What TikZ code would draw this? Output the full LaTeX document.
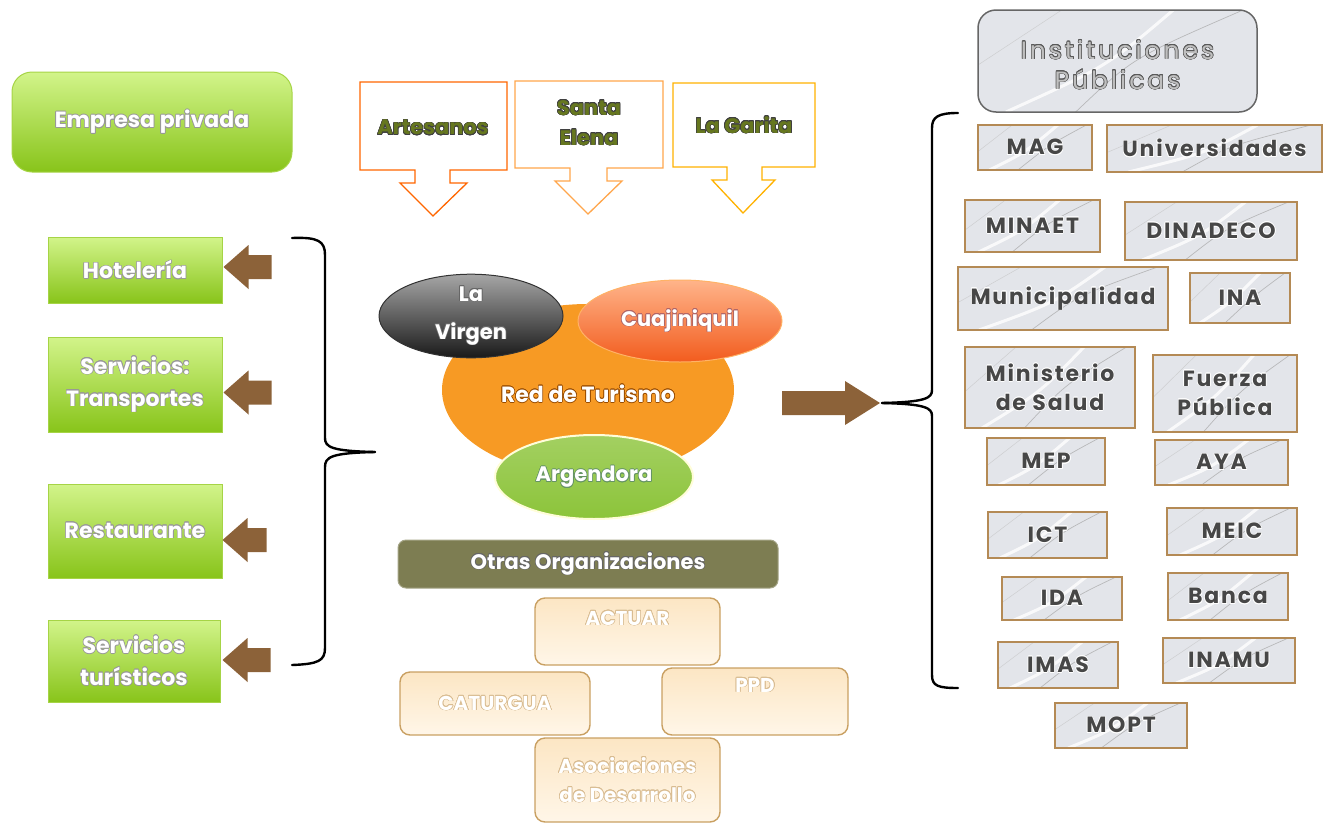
\documentclass[tikz,border=0pt]{standalone}
\usepackage{fontspec}
\setmainfont{Poppins}
\usepackage{contour}
\contourlength{0.6pt}
\usetikzlibrary{shapes.geometric,calc}
\definecolor{gtop}{HTML}{D2F48A}
\definecolor{gbot}{HTML}{88C41A}
\definecolor{gedge}{HTML}{A6D446}
\definecolor{abrown}{HTML}{8C6239}
\definecolor{olivetxt}{HTML}{66771F}
\definecolor{redorange}{HTML}{F79A24}
\definecolor{cuajtop}{HTML}{FFB48A}
\definecolor{cuajbot}{HTML}{F25C1E}
\definecolor{argreen}{HTML}{8CC43A}
\definecolor{olivebox}{HTML}{7D7D52}
\definecolor{peachtop}{HTML}{FCE6C4}
\definecolor{peachbot}{HTML}{FFF6E8}
\definecolor{peachedge}{HTML}{C9A062}
\definecolor{marblebg}{HTML}{E3E5EA}
\definecolor{marbleedge}{HTML}{B48A55}
\definecolor{insttxt}{HTML}{474747}
\newcommand\cwg[1]{\contour{black!40}{#1}}
\newcommand\cwo[1]{\contour{black!75}{#1}}
\newcommand\cwp[1]{\contour{peachedge!70}{#1}}
\newcommand\cwi[1]{\contour{white}{#1}}
\newcommand\cwt[1]{\contour{black!65}{#1}}
\newcommand\grnfont{\bfseries\fontsize{22}{32}\selectfont}
\newcommand\instfont{\bfseries\fontsize{22}{29}\selectfont\addfontfeature{LetterSpace=8}}
\begin{document}
\begin{tikzpicture}[x=1pt,y=-1pt,
  gbox/.style={draw=gedge, line width=1pt, top color=gtop, bottom color=gbot, text=white, font=\grnfont, align=center, inner sep=0pt},
  callout/.style={fill=white, line width=1.3pt, line join=miter},
  calltext/.style={text=olivetxt, font=\bfseries\fontsize{21}{30}\selectfont, align=center, inner sep=0pt},
  fatarrow/.style={fill=abrown},
  bracestyle/.style={draw=black, line width=2.4pt, line cap=round},
  peach/.style={draw=peachedge, line width=1.4pt, rounded corners=10pt, top color=peachtop, bottom color=peachbot, text=white, font=\bfseries\fontsize{20}{29}\selectfont, align=center, inner xsep=0pt},
  marble/.style={draw=marbleedge, line width=1.5pt, fill=marblebg, text=insttxt, font=\instfont, align=center, inner sep=0pt,
    path picture={
      \draw[white, line width=3pt, opacity=0.8] ($(path picture bounding box.south west)!0.1!(path picture bounding box.south east)$) .. controls ($(path picture bounding box.center)+(-10,5)$) .. ($(path picture bounding box.north west)!0.7!(path picture bounding box.north east)$);
      \draw[gray!70, line width=0.7pt, opacity=0.7] ($(path picture bounding box.south west)!0.35!(path picture bounding box.south east)$) .. controls ($(path picture bounding box.center)+(15,-3)$) .. ($(path picture bounding box.north west)!0.95!(path picture bounding box.north east)$);
      \draw[gray!50, line width=0.5pt, opacity=0.6] ($(path picture bounding box.west)+(0,4)$) -- ($(path picture bounding box.north west)!0.3!(path picture bounding box.north east)$);
    }},
  ell/.style={ellipse, inner sep=0pt, text=white, font=\bfseries\fontsize{21}{38}\selectfont, align=center}
]
\useasboundingbox (0,0) rectangle (1331,825);

% ---------- left: private enterprise ----------
\node[gbox, rounded corners=20pt, minimum width=280pt, minimum height=100pt] (emp) at (152,122) {\cwg{Empresa privada}};
\node[gbox, minimum width=174pt, minimum height=66pt] (hotel) at (135,270) {\cwg{Hotelería}};
\node[gbox, minimum width=174pt, minimum height=95pt] (trans) at (135,384.5) {\cwg{Servicios:}\\\cwg{Transportes}};
\node[gbox, minimum width=174pt, minimum height=94pt] (rest) at (135,531) {\cwg{Restaurante}};
\node[gbox, minimum width=172pt, minimum height=82pt] (turis) at (134,661) {\cwg{Servicios}\\\cwg{turísticos}};

\fill[fatarrow] ([xshift=1pt,yshift=3pt]hotel.east) -- ++(25,-22) -- ++(0,10) -- ++(23,0) -- ++(0,24) -- ++(-23,0) -- ++(0,10) -- cycle;
\fill[fatarrow] ([xshift=1pt,yshift=-8pt]trans.east) -- ++(25,-22) -- ++(0,10) -- ++(23,0) -- ++(0,24) -- ++(-23,0) -- ++(0,10) -- cycle;
\fill[fatarrow] ([xshift=0pt,yshift=-9pt]rest.east) -- ++(25,-22) -- ++(0,10) -- ++(19,0) -- ++(0,24) -- ++(-19,0) -- ++(0,10) -- cycle;
\fill[fatarrow] ([xshift=2pt,yshift=1pt]turis.east) -- ++(25,-22) -- ++(0,10) -- ++(23,0) -- ++(0,24) -- ++(-23,0) -- ++(0,10) -- cycle;

% left brace
\coordinate (lbt) at (375,452);
\draw[bracestyle] (292,238) .. controls (318,237) and (325,241) .. (325,255) -- (325,438) .. controls (325,447) and (331,451) .. (lbt);
\draw[bracestyle] (lbt) .. controls (331,453) and (325,457) .. (325,467) -- (325,648) .. controls (325,661) and (318,664) .. (292,665);

% ---------- top callouts ----------
\draw[callout, draw=orange!80!red] (360,82) -- (507,82) -- (507,170) -- (450,170) -- (450,183) -- (467,183) -- (433,216) -- (400,183) -- (415,183) -- (415,170) -- (360,170) -- cycle;
\node[calltext] (art) at (433,128) {\cwo{Artesanos}};
\draw[callout, draw=orange!70] (515,81) -- (663,81) -- (663,168) -- (607,168) -- (607,181) -- (622,181) -- (588,214) -- (555,181) -- (570,181) -- (570,168) -- (515,168) -- cycle;
\node[calltext] (sta) at (589,123) {\cwo{Santa}\\\cwo{Elena}};
\draw[callout, draw=orange!60!yellow] (673,83) -- (815,83) -- (815,167) -- (762,167) -- (762,180) -- (775,180) -- (743,213) -- (712,180) -- (727,180) -- (727,167) -- (673,167) -- cycle;
\node[calltext] (gar) at (744,125) {\cwo{La Garita}};

% ---------- center ellipses ----------
\node[ell, fill=redorange, minimum width=292pt, minimum height=172pt] (red) at (588,390) {};
\node[ell, draw=black!80, line width=1pt, top color=black!35, bottom color=black!90, minimum width=184pt, minimum height=82pt] (virgen) at (471,316) {\contour{black!60}{La}\\\contour{black!60}{Virgen}};
\node[ell, draw=orange!60, line width=1pt, top color=cuajtop, bottom color=cuajbot, minimum width=204pt, minimum height=82pt] (cuaj) at (680,321) {\contour{red!50!black!60}{Cuajiniquil}};
\node[text=white, font=\bfseries\fontsize{22}{38}\selectfont, inner sep=0pt] (redtxt) at (588,394) {\contour{orange!60!black}{Red de Turismo}};
\node[ell, draw=white!85!yellow, line width=2pt, top color=argreen!80!white, bottom color=argreen, minimum width=198pt, minimum height=84pt] (argen) at (594,477) {\contour{green!30!black!60}{Argendora}};

% right arrow
\coordinate (rbt) at (882,403);
\fill[fatarrow] ([xshift=-2pt]rbt) -- ++(-35,-22) -- ++(0,10) -- ++(-63,0) -- ++(0,24) -- ++(63,0) -- ++(0,10) -- cycle;

% ---------- other organisations ----------
\node[rounded corners=8pt, fill=olivebox, draw=olivebox!70!white, line width=1pt, minimum width=380pt, minimum height=48pt, text=white, font=\bfseries\fontsize{21}{24}\selectfont, inner sep=0pt] (otras) at (588,564) {\contour{black!60}{Otras Organizaciones}};
\node[peach, minimum width=185pt, text height=27pt, text depth=40pt, inner ysep=0pt] (actuar) at (627.5,631.5) {\cwp{ACTUAR}};
\node[peach, minimum width=190pt, minimum height=63pt] (caturgua) at (495,703.5) {\cwp{CATURGUA}};
\node[peach, minimum width=186pt, text height=24pt, text depth=43pt, inner ysep=0pt] (ppd) at (755,701.5) {\cwp{PPD}};
\node[peach, minimum width=185pt, minimum height=84pt] (asoc) at (627.5,780) {\cwp{Asociaciones}\\\cwp{de Desarrollo}};

% ---------- public institutions ----------
\node[marble, draw=black!60, rounded corners=18pt, minimum width=279pt, minimum height=102pt, text=black!25, font=\fontsize{25}{30}\selectfont\addfontfeature{LetterSpace=12}] (inst) at (1117.5,61) {\raisebox{-7pt}[\height][\depth]{\begin{tabular}{@{}c@{}}\cwt{Instituciones}\\\cwt{Públicas}\end{tabular}}};
\node[marble, minimum width=114pt, minimum height=45pt] (mag) at (1035,147.5) {\cwi{MAG}};
\node[marble, minimum width=215pt, minimum height=47pt] (univ) at (1214.5,148.5) {\cwi{Universidades}};
\node[marble, minimum width=135pt, minimum height=52pt] (minaet) at (1032.5,226) {\cwi{MINAET}};
\node[marble, minimum width=172pt, minimum height=58pt] (dinadeco) at (1211,231) {\cwi{DINADECO}};
\node[marble, minimum width=210pt, minimum height=63pt] (muni) at (1063,298.5) {\cwi{Municipalidad}};
\node[marble, minimum width=100pt, minimum height=50pt] (ina) at (1240,298) {\cwi{INA}};
\node[marble, minimum width=170pt, minimum height=81pt] (salud) at (1050,387.5) {\cwi{Ministerio}\\\cwi{de Salud}};
\node[marble, minimum width=144pt, minimum height=77pt] (fuerza) at (1225,393.5) {\cwi{Fuerza}\\\cwi{Pública}};
\node[marble, minimum width=118pt, minimum height=47pt] (mep) at (1046,461.5) {\cwi{MEP}};
\node[marble, minimum width=133pt, minimum height=45pt] (aya) at (1221.5,462.5) {\cwi{AYA}};
\node[marble, minimum width=119pt, minimum height=46pt] (ict) at (1047.5,535) {\cwi{ICT}};
\node[marble, minimum width=130pt, minimum height=47pt] (meic) at (1232,531.5) {\cwi{MEIC}};
\node[marble, minimum width=120pt, minimum height=43pt] (ida) at (1062,598.5) {\cwi{IDA}};
\node[marble, minimum width=120pt, minimum height=47pt] (banca) at (1228,596.5) {\cwi{Banca}};
\node[marble, minimum width=120pt, minimum height=46pt] (imas) at (1058,665) {\cwi{IMAS}};
\node[marble, minimum width=132pt, minimum height=45pt] (inamu) at (1229,660.5) {\cwi{INAMU}};
\node[marble, minimum width=132pt, minimum height=45pt] (mopt) at (1121,725.5) {\cwi{MOPT}};

% right brace
\draw[bracestyle] (958,113) .. controls (938,113) and (932,117) .. (932,128) -- (932,390) .. controls (932,398) and (926,402) .. (rbt);
\draw[bracestyle] (rbt) .. controls (926,404) and (932,408) .. (932,416) -- (932,675) .. controls (932,686) and (938,688) .. (958,688);
\end{tikzpicture}
\end{document}
